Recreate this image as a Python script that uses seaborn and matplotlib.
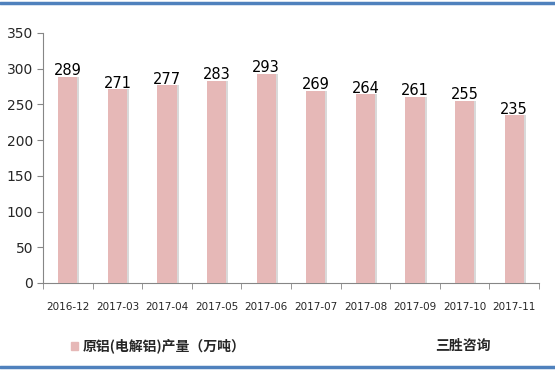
import matplotlib
matplotlib.use("Agg")
import matplotlib.pyplot as plt
import seaborn as sns
import pandas as pd
from matplotlib.patches import Rectangle
from matplotlib.lines import Line2D

categories = ["2016-12", "2017-03", "2017-04", "2017-05", "2017-06",
              "2017-07", "2017-08", "2017-09", "2017-10", "2017-11"]
values = [289, 271, 277, 283, 293, 269, 264, 261, 255, 235]
yticks = [0, 50, 100, 150, 200, 250, 300, 350]
legend_label = "原铝(电解铝)产量（万吨）"
source_label = "三胜咨询"

sns.set_style("white")
plt.rcParams['font.family'] = ['Noto Sans CJK SC', 'DejaVu Sans']

df = pd.DataFrame({"month": categories, "value": values})

fig = plt.figure(figsize=(5.55, 3.73), dpi=100)
ax = fig.add_axes([43/555, 1-283/373, (539-43)/555, (283-33)/373])

bar_color = "#e6b8b7"
sns.barplot(data=df, x="month", y="value", color=bar_color, width=0.39,
            saturation=1, ax=ax, edgecolor="none", zorder=3)
# subtle shadow on right side of bars
for p in ax.patches:
    x0 = p.get_x() + p.get_width()
    ax.add_patch(Rectangle((x0, 0), 0.04, p.get_height(), color="#d9d9d9",
                           zorder=2, lw=0))

for i, v in enumerate(values):
    ax.annotate(str(v), (i, v), xytext=(0, -1), textcoords="offset points",
                ha="center", va="bottom", fontsize=10.5,
                family="DejaVu Sans", color="black", zorder=5)

ax.set_ylim(0, 350)
ax.set_xlim(-0.5, len(categories) - 0.5)
ax.set_yticks(yticks)
ax.set_yticklabels([str(t) for t in yticks], fontsize=10, family="DejaVu Sans")
ax.set_xticks(range(len(categories)))
ax.set_xticklabels(categories, fontsize=7.5, family="DejaVu Sans")
ax.set_xticks([i - 0.5 for i in range(len(categories) + 1)], minor=True)
ax.tick_params(axis="x", which="major", length=0, pad=14)
ax.tick_params(axis="x", which="minor", length=4, color="#868686", direction="out", bottom=True)
ax.tick_params(axis="y", length=4, color="#868686", direction="out", left=True, pad=3)
ax.set_xlabel("")
ax.set_ylabel("")
for s in ["top", "right"]:
    ax.spines[s].set_visible(False)
for s in ["left", "bottom"]:
    ax.spines[s].set_color("#868686")
    ax.spines[s].set_linewidth(0.8)

# legend and source
fig.patches.append(Rectangle((71/555, 1-350/373), 7/555, 8/373, color=bar_color,
                             transform=fig.transFigure, figure=fig))
fig.text(83/555, 1-346/373, legend_label, fontsize=10, fontweight="bold",
         va="center", ha="left")
fig.text(435/555, 1-346/373, source_label, fontsize=10, fontweight="bold",
         va="center", ha="left")

# blue frame lines
fig.add_artist(Line2D([0, 1], [1-3/373, 1-3/373], color="#4f81bd", lw=2.5,
                      transform=fig.transFigure))
fig.add_artist(Line2D([0, 1], [1-367/373, 1-367/373], color="#4f81bd", lw=2.5,
                      transform=fig.transFigure))

fig.savefig("out.png", dpi=100)
